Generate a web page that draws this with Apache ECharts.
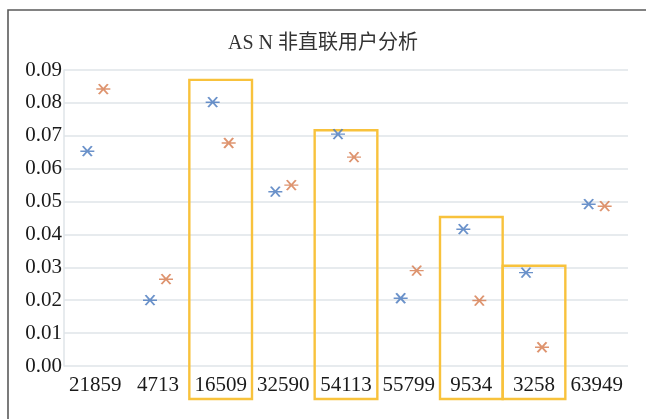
<!DOCTYPE html>
<html>
<head>
<meta charset="utf-8">
<script src="https://cdn.jsdelivr.net/npm/echarts@6/dist/echarts.min.js"></script>
<style>
  html, body { margin: 0; padding: 0; background: #ffffff; }
  #chart { width: 646px; height: 419px; }
</style>
</head>
<body>
<div id="chart"></div>
<script>
// AS number categories along the x axis
const categories = ['21859', '4713', '16509', '32590', '54113', '55799', '9534', '3258', '63949'];
// Two measured ratios per AS
const seriesBlue = [0.0653, 0.0200, 0.0802, 0.0530, 0.0705, 0.0206, 0.0416, 0.0284, 0.0492];
const seriesOrange = [0.0842, 0.0264, 0.0678, 0.0550, 0.0635, 0.0290, 0.0199, 0.0057, 0.0486];
// Highlighted ASes: category index and the top of the highlight frame
const highlightIndex = [2, 4, 6, 7];
const highlightTop = [0.0870, 0.0717, 0.0453, 0.0305];
// Value axis ticks
const yTicks = { min: 0, max: 0.09, step: 0.01 };

const BLUE = '#4677bd';
const ORANGE = '#d6794b';
const BOX = '#f8c23c';
const GRID = '#dfe5e9';
const serif = '"Liberation Serif", "DejaVu Serif", serif';

// six-armed asterisk: one horizontal stroke and two diagonals
const starPath = 'path://M0,5L14,5M2.5,0L11.5,10M2.5,10L11.5,0';

const chart = echarts.init(document.getElementById('chart'), null, { renderer: 'canvas' });

chart.setOption({
  animation: false,
  backgroundColor: '#ffffff',
  title: {
    text: 'AS N 非直联用户分析',
    left: 'center',
    top: 29,
    textStyle: {
      fontFamily: '"Liberation Serif", "Noto Sans CJK SC", serif',
      fontSize: 20,
      fontWeight: 'normal',
      color: '#333333'
    }
  },
  graphic: [
    { type: 'polyline', shape: { points: [[8, 419], [8, 10], [646, 10]] },
      style: { stroke: '#5a5a5a', lineWidth: 1.6, fill: null }, silent: true }
  ],
  grid: { left: 64, right: 18, top: 70, bottom: 53 },
  xAxis: {
    type: 'category',
    data: categories,
    axisLine: { show: false },
    axisTick: { show: false },
    axisLabel: {
      fontFamily: serif, fontSize: 21, color: '#1a1a1a', margin: 9, interval: 0
    },
    splitLine: { show: false }
  },
  yAxis: {
    type: 'value',
    min: yTicks.min,
    max: yTicks.max,
    interval: yTicks.step,
    axisLine: { show: true, lineStyle: { color: GRID, width: 1.5 } },
    axisTick: { show: false },
    axisLabel: {
      fontFamily: serif, fontSize: 21, color: '#1a1a1a', margin: 2,
      formatter: v => v.toFixed(2)
    },
    splitLine: { show: true, lineStyle: { color: GRID, width: 1.5 } }
  },
  series: [
    {
      type: 'custom',
      clip: false,
      silent: true,
      z: 1,
      data: highlightIndex.map((c, i) => [c, highlightTop[i]]),
      renderItem: function (params, api) {
        const top = api.coord([api.value(0), api.value(1)]);
        const base = api.coord([api.value(0), 0]);
        const w = api.size([1, 0])[0];
        return {
          type: 'rect',
          shape: { x: top[0] - w / 2, y: top[1], width: w, height: base[1] - top[1] + 33 },
          style: { fill: null, stroke: BOX, lineWidth: 2.4 }
        };
      }
    },
    {
      type: 'scatter',
      z: 3,
      data: seriesBlue,
      symbol: starPath,
      symbolSize: [14, 10],
      symbolOffset: [-8, 0],
      itemStyle: { color: 'rgba(0,0,0,0)', borderColor: BLUE, borderWidth: 1.7 }
    },
    {
      type: 'scatter',
      z: 3,
      data: seriesOrange,
      symbol: starPath,
      symbolSize: [14, 10],
      symbolOffset: [8, 0],
      itemStyle: { color: 'rgba(0,0,0,0)', borderColor: ORANGE, borderWidth: 1.7 }
    }
  ]
});
</script>
</body>
</html>
